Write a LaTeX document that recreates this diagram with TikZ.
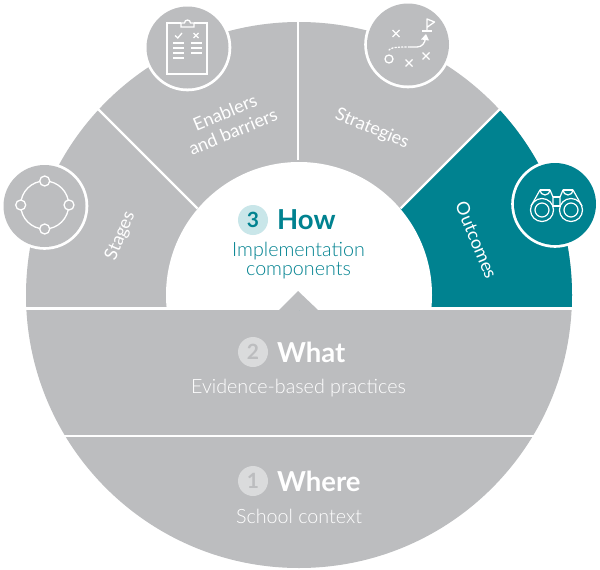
\documentclass[tikz,border=0pt]{standalone}
\usepackage{fontspec}
\setmainfont{Lato}
\newfontfamily\lightf{Lato}[UprightFont=* Light]
\definecolor{gband}{HTML}{BCBDBF}
\definecolor{teal1}{HTML}{008290}
\definecolor{tealpale}{HTML}{C9E6E9}
\definecolor{gpale}{HTML}{DADBDC}
\tikzset{
  seglabel/.style={text=white,align=center,font=\fontsize{18}{21}\selectfont,inner sep=0pt},
  head/.style={font=\bfseries\fontsize{27.5}{28}\selectfont,inner sep=0pt},
  sub/.style={font=\lightf\fontsize{19.7}{18.5}\selectfont,inner sep=0pt,align=center},
  numdot/.style={circle,minimum size=30pt,inner sep=0pt,font=\bfseries\fontsize{21}{22}\selectfont},
  icon/.style={white,line width=1.3pt},
  divider/.style={white,line width=2.4pt},
}
\begin{document}
\begin{tikzpicture}[x=1pt,y=-1pt]
\useasboundingbox (0,0) rectangle (600,570);
% main disc
\fill[gband] (299,295) circle[radius=273];
% teal sector
\begin{scope}
  \clip (299,310) -- (520,89) -- (600,89) -- (600,308) -- cycle;
  \fill[teal1] (299,295) circle[radius=273];
\end{scope}
% inner half disc
\begin{scope}
  \clip (100,100) rectangle (500,308.5);
  \fill[white] (299,295) circle[radius=133];
\end{scope}
% dividers
\draw[divider] (298,160) -- (298,15);
\draw[divider] (197.5,208.5) -- (90,101);
\draw[divider] (400.5,208.5) -- (508,101);
\draw[divider] (20,308.5) -- (580,308.5);
\draw[divider] (55,436) -- (545,436);
\fill[white] (166,307) rectangle (432,309.5);
\fill[gband] (279,310) -- (298,291) -- (318,310) -- cycle;
% icon discs
\fill[white] (44.5,206) circle[radius=43.8];
\fill[gband] (44.5,206) circle[radius=41];
\fill[white] (187.5,47.5) circle[radius=43.8];
\fill[gband] (187.5,47.5) circle[radius=41];
\fill[white] (408,44.5) circle[radius=43.8];
\fill[gband] (408,44.5) circle[radius=41];
\fill[white] (555,204) circle[radius=43.8];
\fill[teal1] (555,204) circle[radius=41];
% stages icon
\draw[icon] (44.7,205) circle[radius=24];
\foreach \p in {(44.7,181),(20.7,205),(69,205),(44.7,229)}
  \draw[icon,fill=gband] \p circle[radius=5];
% clipboard icon
\draw[icon] (181,23) -- (167,23) -- (167,74) -- (207,74) -- (207,23) -- (194,23);
\draw[icon] (181,27) -- (194,27) -- (194,23) -- (190.5,23) arc[start angle=0,end angle=-180,radius=3] -- (181,23) -- cycle;
\draw[icon] (175,35.5) -- (177.8,38) -- (182,33);
\draw[icon] (193.5,33) -- (198.5,38) (198.5,33) -- (193.5,38);
\foreach \yy in {43,48,53,58} \draw[icon] (173,\yy) -- (184,\yy);
\foreach \yy in {43,48,53} \draw[icon] (191,\yy) -- (202,\yy);
% strategies icon
\foreach \q in {(396,33.5),(409,63),(426,56)}
  \draw[icon,shift={\q}] (-3.5,-3.5) -- (3.5,3.5) (3.5,-3.5) -- (-3.5,3.5);
\draw[icon] (389,59) circle[radius=4];
\draw[icon,dotted,line cap=round] (389,50) .. controls (391,47.5) and (395,47) .. (410,47);
\draw[icon] (410,47) -- (417,47) .. controls (422,47) and (425,43) .. (425.5,38);
\fill[white] (421,39.5) -- (426,34) -- (429,40.5) -- cycle;
\draw[icon] (422,31) -- (432,31);
\draw[icon,line join=round] (427,31) -- (427,19) -- (434.5,22) -- (427.5,27);
% binoculars icon
\begin{scope}[icon,line width=1.2pt,line join=round]
  \draw (542,210) circle[radius=7];
  \draw (571,210) circle[radius=7];
  \draw (542,210) circle[radius=11.5];
  \draw (571,210) circle[radius=11.5];
  \draw (531,206) -- (540,190) arc[start angle=180,end angle=0,radius=5] -- (553,197) -- (553,206);
  \draw (540,190) -- (550,190);
  \draw (582,206) -- (573,190) arc[start angle=0,end angle=180,radius=5] -- (560,197) -- (560,206);
  \draw (573,190) -- (563,190);
  \draw (553,197) -- (560,197) (553,206) -- (560,206);
\end{scope}
% segment labels
\node[seglabel,rotate=67.5] (stages) at (120.5,236) {Stages};
\node[seglabel,rotate=22.5] (enablers) at (229,122) {Enablers\\and barriers};
\node[seglabel,rotate=-22.5] (strategies) at (372,129) {Strategies};
\node[seglabel,rotate=-67.5] (outcomes) at (476.5,240) {Outcomes};
% how
\node[numdot,fill=tealpale,text=teal1] (n3) at (253,220) {3};
\node[head,text=teal1,anchor=west] (how) at (277,220) {How};
\node[sub,text=teal1] (impl) at (298.5,260.5) {Implementation\\components};
% what
\node[numdot,fill=gpale,text=gband] (n2) at (253,352) {2};
\node[head,text=white,anchor=west] (what) at (277,352) {What};
\node[sub,text=white] (ebp) at (298.5,388) {Evidence-based practices};
% where
\node[numdot,fill=gpale,text=gband] (n1) at (253,481) {1};
\node[head,text=white,anchor=west] (where) at (277,481) {Where};
\node[sub,text=white] (school) at (299,516) {School context};
\end{tikzpicture}
\end{document}
